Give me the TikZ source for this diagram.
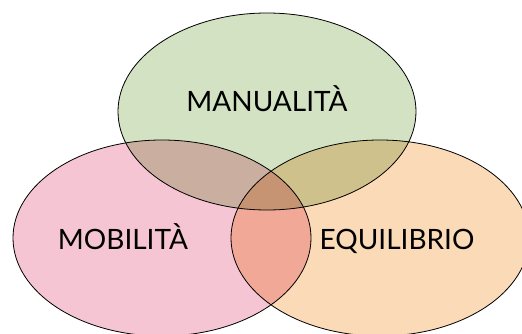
\documentclass[tikz,border=0pt]{standalone}
\usepackage{fontspec}
\setmainfont{Lato}
\usepackage{tikz}
\definecolor{manugreen}{RGB}{211,226,194}
\definecolor{mobipink}{RGB}{245,197,211}
\definecolor{equiorange}{RGB}{251,218,183}
\tikzset{
  setfill/.style={draw=black, line width=0.8pt},
  setlabel/.style={font=\fontsize{28}{32}\selectfont, text=black, inner sep=0pt}
}

\begin{document}
\begin{tikzpicture}[x=1pt, y=-1pt]
		%%%%% START %%%%%
		
		\useasboundingbox (0, 0) rectangle (522, 334);
		
		\begin{scope}[blend group=multiply]
		\draw[setfill, fill=manugreen] (267, 111.5) ellipse (149 and 98.5);
		\draw[setfill, fill=mobipink] (162, 238) ellipse (149 and 98);
		\draw[setfill, fill=equiorange] (380, 238) ellipse (149 and 98);
		\end{scope}
		
		\node[setlabel, anchor=base] (manualita) at (267, 112) {MANUALITÀ};
		\node[setlabel, anchor=base] (mobilita) at (123, 249.5) {MOBILITÀ};
		\node[setlabel, anchor=base] (equilibrio) at (397, 249.5) {EQUILIBRIO};
		
		%%%%% END %%%%%
	\end{tikzpicture}
\end{document}
